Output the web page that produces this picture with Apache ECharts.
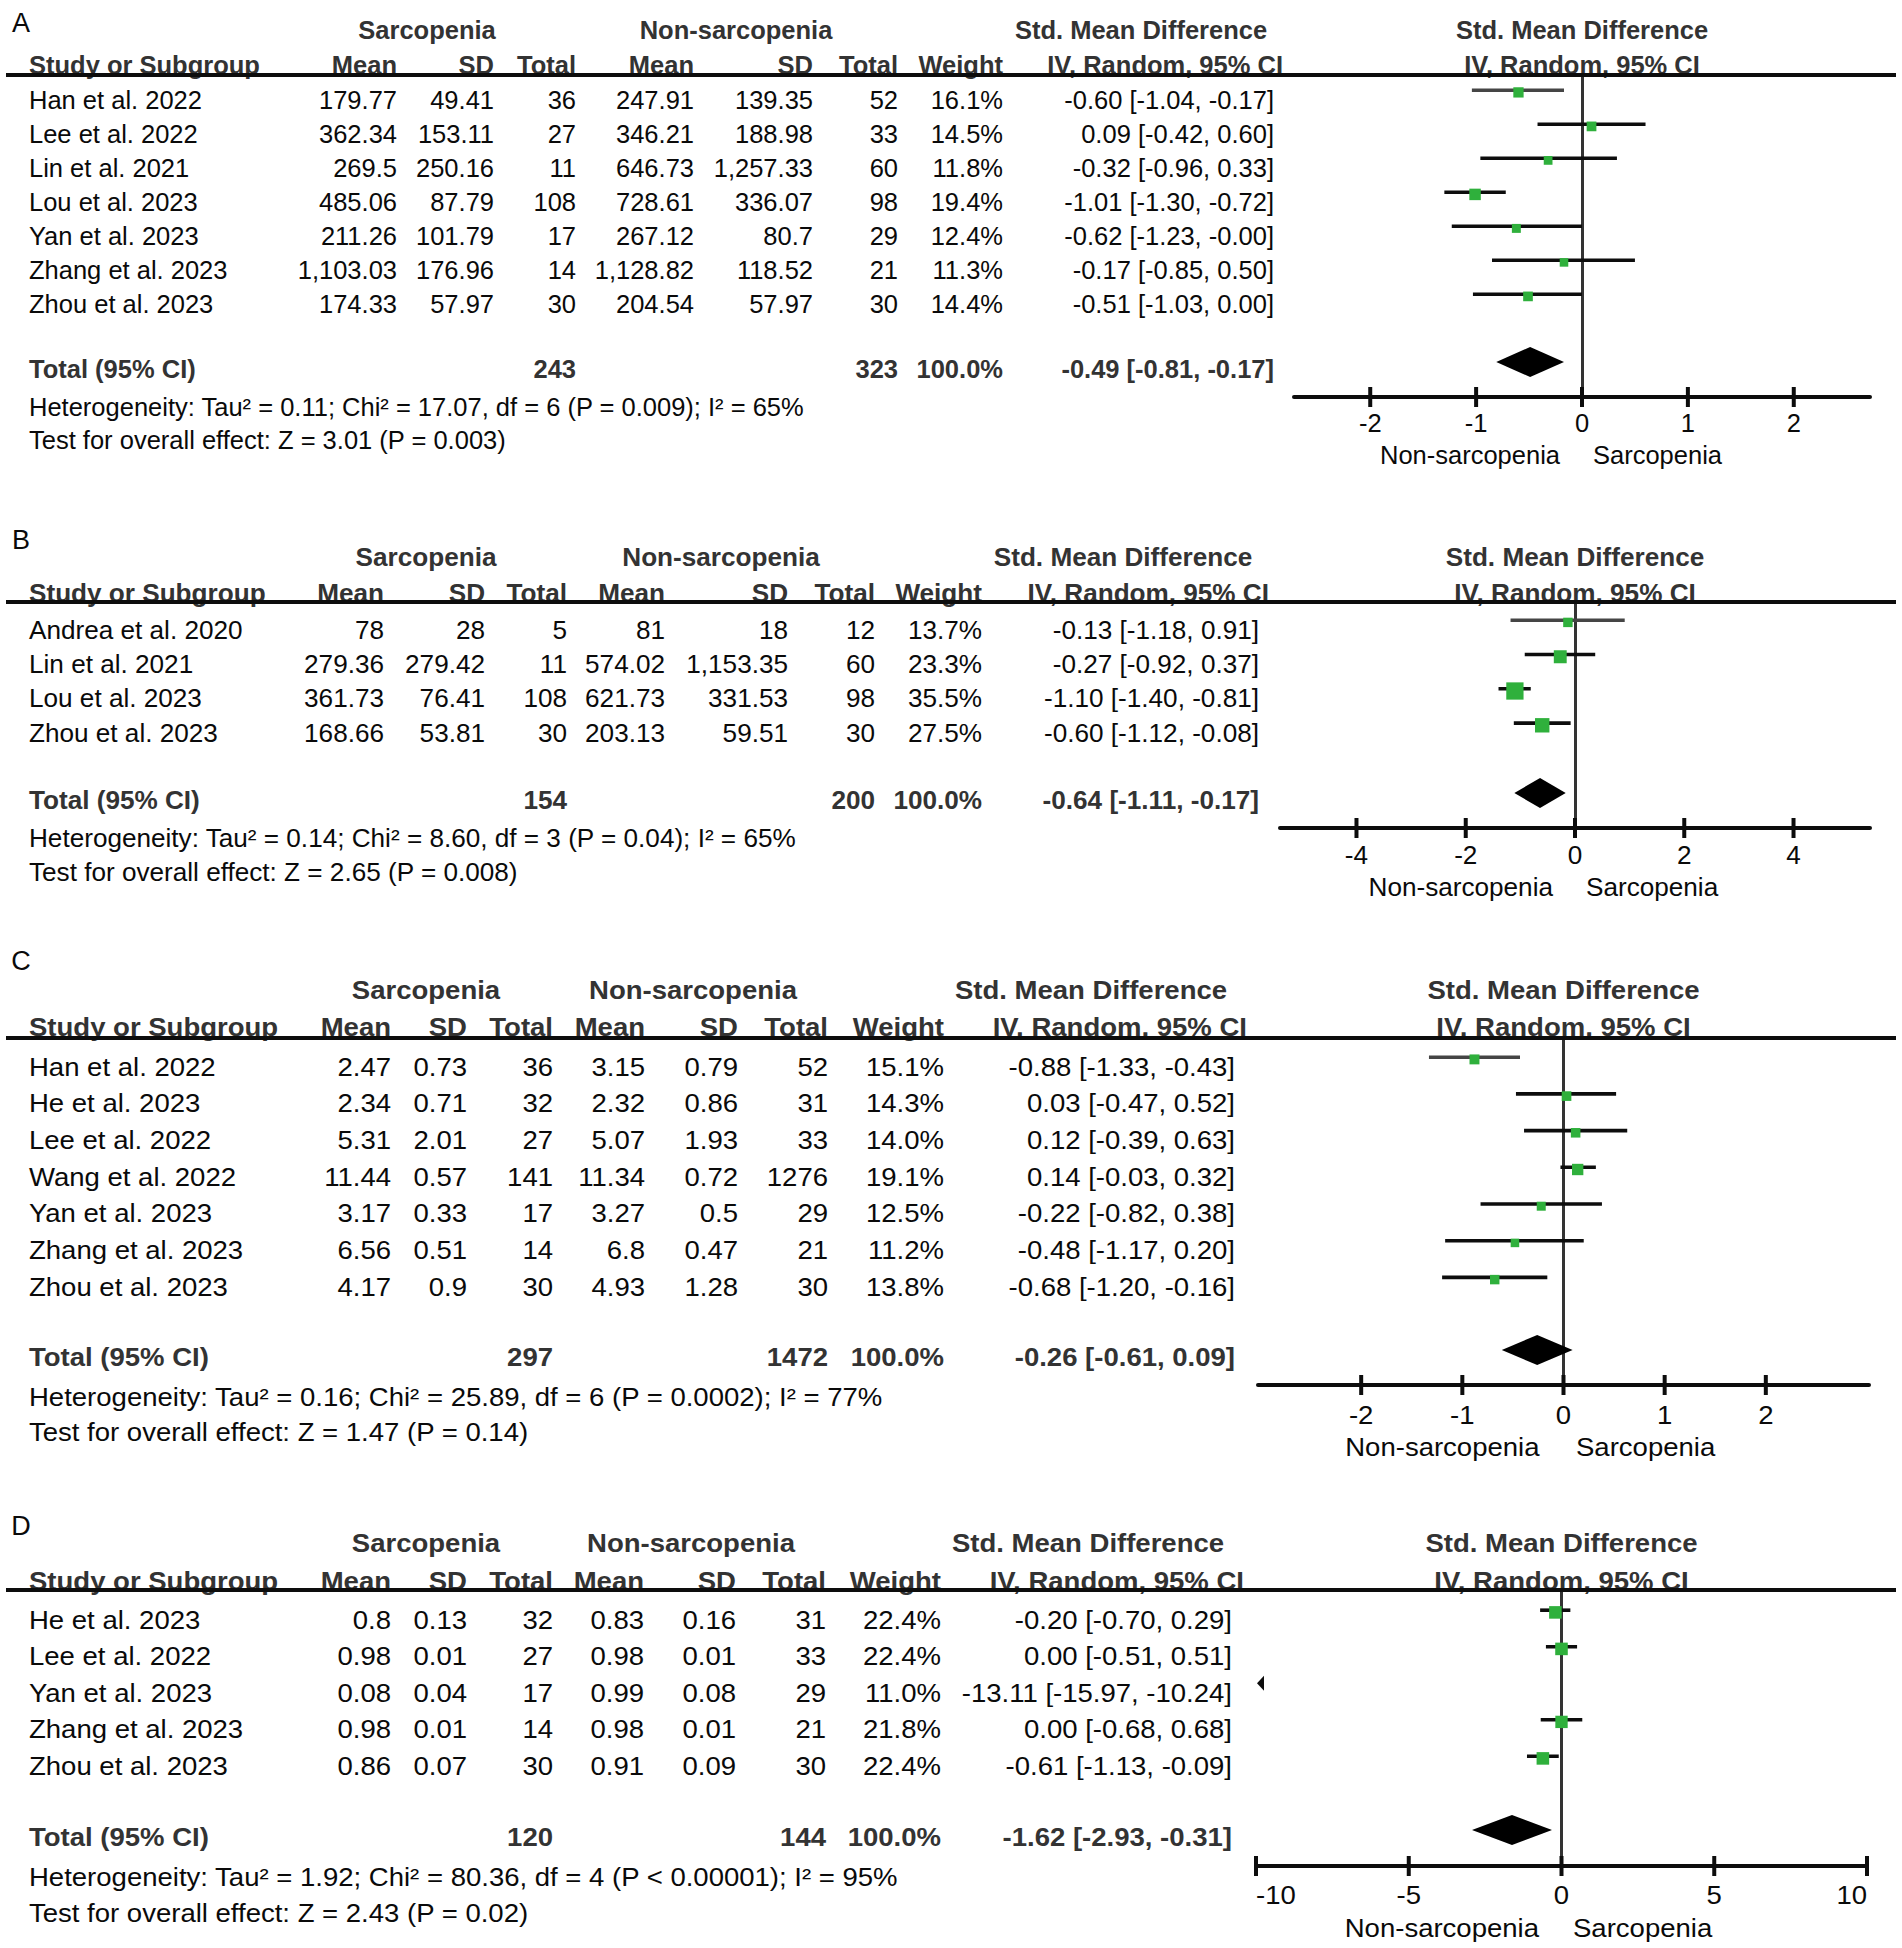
<!DOCTYPE html>
<html><head><meta charset="utf-8">
<script src="https://cdn.jsdelivr.net/npm/echarts@6/dist/echarts.min.js"></script>
<style>html,body{margin:0;padding:0;background:#fff}#c{width:1902px;height:1948px}</style>
</head><body><div id="c"></div>
<script>
// ================= DATA =================
// ---- Panel A ----
const studiesA = ['Han et al. 2022','Lee et al. 2022','Lin et al. 2021','Lou et al. 2023','Yan et al. 2023','Zhang et al. 2023','Zhou et al. 2023'];
const sarcMeanA = ['179.77','362.34','269.5','485.06','211.26','1,103.03','174.33'];
const sarcSdA = ['49.41','153.11','250.16','87.79','101.79','176.96','57.97'];
const sarcTotalA = [36,27,11,108,17,14,30];
const nonMeanA = ['247.91','346.21','646.73','728.61','267.12','1,128.82','204.54'];
const nonSdA = ['139.35','188.98','1,257.33','336.07','80.7','118.52','57.97'];
const nonTotalA = [52,33,60,98,29,21,30];
const weightA = [16.1,14.5,11.8,19.4,12.4,11.3,14.4];
const smdA = [-0.60,0.09,-0.32,-1.01,-0.62,-0.17,-0.51];
const lowA = [-1.04,-0.42,-0.96,-1.30,-1.23,-0.85,-1.03];
const highA = [-0.17,0.60,0.33,-0.72,-0.00,0.50,0.00];
const totalsA = [243,323];
const pooledA = [-0.49,-0.81,-0.17];
const hetA = 'Heterogeneity: Tau² = 0.11; Chi² = 17.07, df = 6 (P = 0.009); I² = 65%';
const testA = 'Test for overall effect: Z = 3.01 (P = 0.003)';
const ticksA = [-2,-1,0,1,2];

// ---- Panel B ----
const studiesB = ['Andrea et al. 2020','Lin et al. 2021','Lou et al. 2023','Zhou et al. 2023'];
const sarcMeanB = ['78','279.36','361.73','168.66'];
const sarcSdB = ['28','279.42','76.41','53.81'];
const sarcTotalB = [5,11,108,30];
const nonMeanB = ['81','574.02','621.73','203.13'];
const nonSdB = ['18','1,153.35','331.53','59.51'];
const nonTotalB = [12,60,98,30];
const weightB = [13.7,23.3,35.5,27.5];
const smdB = [-0.13,-0.27,-1.10,-0.60];
const lowB = [-1.18,-0.92,-1.40,-1.12];
const highB = [0.91,0.37,-0.81,-0.08];
const totalsB = [154,200];
const pooledB = [-0.64,-1.11,-0.17];
const hetB = 'Heterogeneity: Tau² = 0.14; Chi² = 8.60, df = 3 (P = 0.04); I² = 65%';
const testB = 'Test for overall effect: Z = 2.65 (P = 0.008)';
const ticksB = [-4,-2,0,2,4];

// ---- Panel C ----
const studiesC = ['Han et al. 2022','He et al. 2023','Lee et al. 2022','Wang et al. 2022','Yan et al. 2023','Zhang et al. 2023','Zhou et al. 2023'];
const sarcMeanC = ['2.47','2.34','5.31','11.44','3.17','6.56','4.17'];
const sarcSdC = ['0.73','0.71','2.01','0.57','0.33','0.51','0.9'];
const sarcTotalC = [36,32,27,141,17,14,30];
const nonMeanC = ['3.15','2.32','5.07','11.34','3.27','6.8','4.93'];
const nonSdC = ['0.79','0.86','1.93','0.72','0.5','0.47','1.28'];
const nonTotalC = [52,31,33,1276,29,21,30];
const weightC = [15.1,14.3,14.0,19.1,12.5,11.2,13.8];
const smdC = [-0.88,0.03,0.12,0.14,-0.22,-0.48,-0.68];
const lowC = [-1.33,-0.47,-0.39,-0.03,-0.82,-1.17,-1.20];
const highC = [-0.43,0.52,0.63,0.32,0.38,0.20,-0.16];
const totalsC = [297,1472];
const pooledC = [-0.26,-0.61,0.09];
const hetC = 'Heterogeneity: Tau² = 0.16; Chi² = 25.89, df = 6 (P = 0.0002); I² = 77%';
const testC = 'Test for overall effect: Z = 1.47 (P = 0.14)';
const ticksC = [-2,-1,0,1,2];

// ---- Panel D ----
const studiesD = ['He et al. 2023','Lee et al. 2022','Yan et al. 2023','Zhang et al. 2023','Zhou et al. 2023'];
const sarcMeanD = ['0.8','0.98','0.08','0.98','0.86'];
const sarcSdD = ['0.13','0.01','0.04','0.01','0.07'];
const sarcTotalD = [32,27,17,14,30];
const nonMeanD = ['0.83','0.98','0.99','0.98','0.91'];
const nonSdD = ['0.16','0.01','0.08','0.01','0.09'];
const nonTotalD = [31,33,29,21,30];
const weightD = [22.4,22.4,11.0,21.8,22.4];
const smdD = [-0.20,0.00,-13.11,0.00,-0.61];
const lowD = [-0.70,-0.51,-15.97,-0.68,-1.13];
const highD = [0.29,0.51,-10.24,0.68,-0.09];
const totalsD = [120,144];
const pooledD = [-1.62,-2.93,-0.31];
const hetD = 'Heterogeneity: Tau² = 1.92; Chi² = 80.36, df = 4 (P < 0.00001); I² = 95%';
const testD = 'Test for overall effect: Z = 2.43 (P = 0.02)';
const ticksD = [-10,-5,0,5,10];

// ---- shared text ----
const groupNames = ['Sarcopenia','Non-sarcopenia'];
const colHeaders = ['Study or Subgroup','Mean','SD','Total','Mean','SD','Total','Weight','IV, Random, 95% CI'];
const smdTitle = 'Std. Mean Difference';
const favourLabels = ['Non-sarcopenia','Sarcopenia'];
const totalLabel = 'Total (95% CI)';
const totalWeight = '100.0%';

// ================= STYLE / LAYOUT =================
const FONT = '"Liberation Sans", Arial, Helvetica, sans-serif';
const FS = 25.5;
const TXT = '#0a0a0a';
const BOLDC = '#333333';
const GREEN = '#2fb03c';
const INK = '#0d0d0d';
const CI_W = 3.6;

const panels = [
  { letter:'A', firstGray:true, sx:1.0,
    d:{studies:studiesA,sMean:sarcMeanA,sSd:sarcSdA,sN:sarcTotalA,nMean:nonMeanA,nSd:nonSdA,nN:nonTotalA,w:weightA,smd:smdA,lo:lowA,hi:highA,totals:totalsA,pooled:pooledA,het:hetA,test:testA,ticks:ticksA},
    L:{y0:100,step:34,lineY:75,axisY:397,h1Y:30,h2Y:65,letterY:23,totalY:369,hetY:407,testY:440,tickDy:26,groupDy:58,
       plotLeft:1294,plotRight:1870,xMin:-2.72,xMax:2.72,
       cols:[29,397,494,576,694,813,898,1003,1274],sarcC:427,nonC:736,smdC:1141,ivRight:1283,gapNon:22,gapSarc:11}},
  { letter:'B', firstGray:true, sx:1.025,
    d:{studies:studiesB,sMean:sarcMeanB,sSd:sarcSdB,sN:sarcTotalB,nMean:nonMeanB,nSd:nonSdB,nN:nonTotalB,w:weightB,smd:smdB,lo:lowB,hi:highB,totals:totalsB,pooled:pooledB,het:hetB,test:testB,ticks:ticksB},
    L:{y0:630,step:34.3,lineY:602,axisY:828,h1Y:557,h2Y:593,letterY:540,totalY:800,hetY:838,testY:872,tickDy:27,groupDy:59,
       plotLeft:1280,plotRight:1870,xMin:-5.4,xMax:5.4,
       cols:[29,384,485,567,665,788,875,982,1259],sarcC:426,nonC:721,smdC:1123,ivRight:1269,gapNon:22,gapSarc:11}},
  { letter:'C', firstGray:true, sx:1.08,
    d:{studies:studiesC,sMean:sarcMeanC,sSd:sarcSdC,sN:sarcTotalC,nMean:nonMeanC,nSd:nonSdC,nN:nonTotalC,w:weightC,smd:smdC,lo:lowC,hi:highC,totals:totalsC,pooled:pooledC,het:hetC,test:testC,ticks:ticksC},
    L:{y0:1067,step:36.7,lineY:1038,axisY:1385,h1Y:990,h2Y:1027,letterY:961,totalY:1357,hetY:1397,testY:1432,tickDy:30,groupDy:62,
       plotLeft:1258,plotRight:1869,xMin:-3.02,xMax:3.02,
       cols:[29,391,467,553,645,738,828,944,1235],sarcC:426,nonC:693,smdC:1091,ivRight:1247,gapNon:24,gapSarc:12.5}},
  { letter:'D', firstGray:false, sx:1.08,
    d:{studies:studiesD,sMean:sarcMeanD,sSd:sarcSdD,sN:sarcTotalD,nMean:nonMeanD,nSd:nonSdD,nN:nonTotalD,w:weightD,smd:smdD,lo:lowD,hi:highD,totals:totalsD,pooled:pooledD,het:hetD,test:testD,ticks:ticksD},
    L:{y0:1620,step:36.5,lineY:1590,axisY:1866,h1Y:1543,h2Y:1581,letterY:1526,totalY:1837,hetY:1877,testY:1913,tickDy:29,groupDy:62,
       plotLeft:1256,plotRight:1867,xMin:-10,xMax:10,
       cols:[29,391,467,553,644,736,826,941,1232],sarcC:426,nonC:691,smdC:1088,ivRight:1244,gapNon:22.5,gapSarc:11.5}}
];

function fmt(v){ return (Object.is(v,-0) ? '-' : '') + v.toFixed(2); }
function ciText(m,l,h){ return fmt(m) + ' [' + fmt(l) + ', ' + fmt(h) + ']'; }
function rowOf(L, py){ return (py - L.y0) / L.step; }
function boxSize(w){ return 4.5 + 0.36 * w; }   // RevMan-style square size from weight
function txt(x, y, s, align, bold, sx, font){
  const st = {text:String(s), font: font || ((bold?'bold ':'') + FS + 'px ' + FONT), fill: bold?BOLDC:TXT,
              align:align, verticalAlign:'middle', textAlign:align, textVerticalAlign:'middle'};
  return {type:'text', x:x, y:y, scaleX: sx || 1, scaleY: 1, silent:true, style:st};
}

// ================= OPTION =================
const grids = [], xAxes = [], yAxes = [], series = [], graphics = [];

panels.forEach(function(P, k){
  const D = P.d, L = P.L, SX = P.sx;
  const T = function(x, y, s, align, bold){ return txt(x, y, s, align, bold, SX); };
  grids.push({left:L.plotLeft, width:L.plotRight-L.plotLeft, top:L.lineY, height:L.axisY-L.lineY, containLabel:false});
  xAxes.push({type:'value', gridIndex:k, min:L.xMin, max:L.xMax, position:'bottom',
    axisLine:{show:true, onZero:false, lineStyle:{color:INK, width:4}},
    axisTick:{show:false}, axisLabel:{show:false}, splitLine:{show:false}});
  yAxes.push({type:'value', gridIndex:k, inverse:true, min:rowOf(L,L.lineY), max:rowOf(L,L.axisY),
    axisLine:{show:true, onZero:true, lineStyle:{color:'#333333', width:3}},
    axisTick:{show:false}, axisLabel:{show:false}, splitLine:{show:false}});

  // ---- static header layout ----
  const pc = (L.plotLeft + L.plotRight) / 2;
  graphics.push(txt(21, L.letterY, P.letter, 'center', false, 1, '27px ' + FONT));
  graphics.push(T(L.sarcC, L.h1Y, groupNames[0], 'center', true));
  graphics.push(T(L.nonC, L.h1Y, groupNames[1], 'center', true));
  graphics.push(T(L.smdC, L.h1Y, smdTitle, 'center', true));
  graphics.push(T(pc, L.h1Y, smdTitle, 'center', true));
  colHeaders.forEach(function(h, j){
    const x = j === 8 ? L.ivRight : L.cols[j];
    graphics.push(T(x, L.h2Y, h, j===0?'left':'right', true));
  });
  graphics.push(T(pc, L.h2Y, colHeaders[8], 'center', true));
  graphics.push({type:'line', silent:true, z:10, shape:{x1:6, y1:L.lineY, x2:1896, y2:L.lineY}, style:{stroke:INK, lineWidth:4}});

  // ---- study rows ----
  series.push({
    type:'custom', xAxisIndex:k, yAxisIndex:k, clip:false, silent:true, encode:{x:1, y:0}, z:3,
    data: D.studies.map(function(s,i){ return [i, D.smd[i], D.lo[i], D.hi[i], D.w[i]]; }),
    renderItem: function(params, api){
      const i = params.dataIndex;
      const row = api.value(0);
      const ty = api.coord([0,row])[1];
      const C = L.cols;
      const kids = [
        T(C[0], ty, D.studies[i], 'left'),
        T(C[1], ty, D.sMean[i], 'right'),
        T(C[2], ty, D.sSd[i], 'right'),
        T(C[3], ty, D.sN[i], 'right'),
        T(C[4], ty, D.nMean[i], 'right'),
        T(C[5], ty, D.nSd[i], 'right'),
        T(C[6], ty, D.nN[i], 'right'),
        T(C[7], ty, D.w[i].toFixed(1) + '%', 'right'),
        T(C[8], ty, ciText(D.smd[i], D.lo[i], D.hi[i]), 'right')
      ];
      const m = api.value(1), lo = api.value(2), hi = api.value(3), w = api.value(4);
      const ly = ty - 9.8;
      const lineColor = (P.firstGray && i === 0) ? '#454545' : INK;
      const a = Math.max(lo, L.xMin), b = Math.min(hi, L.xMax);
      if (a < b) {
        kids.push({type:'line', silent:true, shape:{x1:api.coord([a,row])[0], y1:ly, x2:api.coord([b,row])[0], y2:ly}, style:{stroke:lineColor, lineWidth:CI_W}});
      }
      if (lo < L.xMin) {
        const px = api.coord([L.xMin,row])[0];
        kids.push({type:'polygon', silent:true, shape:{points:[[px+1,ly],[px+8,ly-7.5],[px+8,ly+7.5]]}, style:{fill:INK}});
      }
      if (hi > L.xMax) {
        const px = api.coord([L.xMax,row])[0];
        kids.push({type:'polygon', silent:true, shape:{points:[[px-1,ly],[px-8,ly-7.5],[px-8,ly+7.5]]}, style:{fill:INK}});
      }
      if (m >= L.xMin && m <= L.xMax) {
        const s = boxSize(w);
        const px = api.coord([m,row])[0];
        kids.push({type:'rect', silent:true, shape:{x:px-s/2, y:ly+2.2-s/2, width:s, height:s}, style:{fill:GREEN}});
      }
      return {type:'group', children:kids};
    }
  });

  // ---- total / heterogeneity / overall effect + diamond ----
  series.push({
    type:'custom', xAxisIndex:k, yAxisIndex:k, clip:false, silent:true, encode:{x:1, y:0}, z:3,
    data: [[rowOf(L,L.totalY), D.pooled[0], D.pooled[1], D.pooled[2], rowOf(L,L.hetY), rowOf(L,L.testY)]],
    renderItem: function(params, api){
      const row = api.value(0);
      const ty = api.coord([0,row])[1];
      const hy = api.coord([0,api.value(4)])[1];
      const tsy = api.coord([0,api.value(5)])[1];
      const C = L.cols;
      const m = api.value(1), lo = api.value(2), hi = api.value(3);
      const cy = ty - 7, hh = 15;
      const xm = api.coord([m,row])[0], xl = api.coord([lo,row])[0], xh = api.coord([hi,row])[0];
      return {type:'group', children:[
        T(C[0], ty, totalLabel, 'left', true),
        T(C[3], ty, D.totals[0], 'right', true),
        T(C[6], ty, D.totals[1], 'right', true),
        T(C[7], ty, totalWeight, 'right', true),
        T(C[8], ty, ciText(m, lo, hi), 'right', true),
        T(C[0], hy, D.het, 'left'),
        T(C[0], tsy, D.test, 'left'),
        {type:'polygon', silent:true, shape:{points:[[xl,cy],[xm,cy-hh],[xh,cy],[xm,cy+hh]]}, style:{fill:'#000'}}
      ]};
    }
  });

  // ---- axis ticks, tick labels, favour labels ----
  const axisRow = rowOf(L, L.axisY);
  series.push({
    type:'custom', xAxisIndex:k, yAxisIndex:k, clip:false, silent:true, encode:{x:0, y:1}, z:3,
    data: D.ticks.map(function(v){ return [v, axisRow]; }),
    renderItem: function(params, api){
      const v = api.value(0);
      const p = api.coord([v, api.value(1)]);
      const al = v <= L.xMin ? 'left' : (v >= L.xMax ? 'right' : 'center');
      const kids = [
        {type:'line', silent:true, shape:{x1:p[0], y1:p[1]-10, x2:p[0], y2:p[1]+10}, style:{stroke:INK, lineWidth:4}},
        T(p[0], p[1] + L.tickDy, String(v), al)
      ];
      if (v === 0) {
        kids.push(T(p[0] - L.gapNon, p[1] + L.groupDy, favourLabels[0], 'right'));
        kids.push(T(p[0] + L.gapSarc, p[1] + L.groupDy, favourLabels[1], 'left'));
      }
      return {type:'group', children:kids};
    }
  });
});

const chart = echarts.init(document.getElementById('c'), null, {renderer:'svg', width:1902, height:1948});
chart.setOption({
  animation:false,
  backgroundColor:'#ffffff',
  grid: grids, xAxis: xAxes, yAxis: yAxes,
  graphic: graphics,
  series: series
});
</script>
</body></html>
